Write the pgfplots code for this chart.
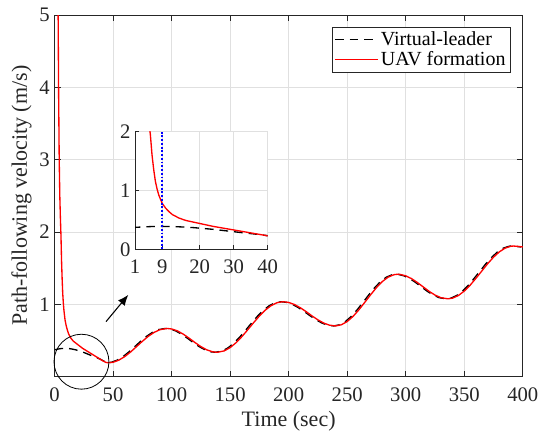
\documentclass[border=0pt]{standalone}
\usepackage{fontspec}
\setmainfont{Liberation Serif}
\usepackage{pgfplots}
\usepackage{pgfplotstable}
\pgfplotsset{compat=1.18}
\usetikzlibrary{arrows.meta}
\definecolor{axgray}{gray}{0.15}
\definecolor{gridgray}{gray}{0.88}

\pgfplotstableread{
t v
2 12
2.5 8
3 5.2
3.5 3.9
4 3.0
4.5 2.5
5 2.2
5.5 1.95
6 1.6
6.5 1.35
7 1.15
7.5 1.02
8 0.92
8.5 0.85
9 0.78
10 0.70
11 0.64
12 0.59
13 0.56
14 0.53
16 0.49
18 0.465
20 0.44
22 0.415
24 0.39
26 0.37
28 0.35
30 0.33
32 0.31
34 0.29
36 0.27
38 0.25
40 0.23
42 0.21
44 0.195
46 0.19
50 0.197
55 0.227
60 0.276
65 0.340
70 0.413
75 0.487
80 0.555
85 0.610
90 0.648
96 0.665
100 0.658
105 0.631
110 0.586
115 0.530
120 0.470
125 0.414
130 0.370
135 0.342
139 0.335
145 0.355
150 0.400
155 0.467
160 0.551
165 0.646
170 0.744
175 0.837
180 0.918
185 0.981
190 1.021
195 1.035
200 1.025
205 0.996
210 0.951
215 0.897
220 0.838
225 0.784
230 0.739
235 0.710
240 0.700
245 0.716
250 0.761
255 0.832
260 0.923
265 1.026
270 1.131
275 1.230
280 1.314
285 1.375
290 1.409
293 1.415
295 1.413
300 1.393
305 1.354
310 1.300
315 1.239
320 1.178
325 1.127
330 1.091
336 1.075
340 1.084
345 1.121
350 1.182
355 1.263
360 1.359
365 1.460
370 1.561
375 1.651
380 1.725
385 1.777
390 1.803
392 1.805
396 1.800
400 1.792
}\uavdata

\pgfplotstableread{
t v
0 0.37
3 0.38
6 0.388
9 0.39
12 0.388
15 0.38
18 0.37
21 0.355
24 0.34
27 0.32
30 0.30
33 0.28
36 0.262
39 0.24
42 0.215
44.5 0.19
48.5 0.197
53.5 0.227
58.5 0.276
63.5 0.340
68.5 0.413
73.5 0.487
78.5 0.555
83.5 0.610
88.5 0.648
94.5 0.665
98.5 0.658
103.5 0.631
108.5 0.586
113.5 0.530
118.5 0.470
123.5 0.414
128.5 0.370
133.5 0.342
137.5 0.335
143.5 0.355
148.5 0.400
153.5 0.467
158.5 0.551
163.5 0.646
168.5 0.744
173.5 0.837
178.5 0.918
183.5 0.981
188.5 1.021
193.5 1.035
198.5 1.025
203.5 0.996
208.5 0.951
213.5 0.897
218.5 0.838
223.5 0.784
228.5 0.739
233.5 0.710
238.5 0.700
243.5 0.716
248.5 0.761
253.5 0.832
258.5 0.923
263.5 1.026
268.5 1.131
273.5 1.230
278.5 1.314
283.5 1.375
288.5 1.409
291.5 1.415
293.5 1.413
298.5 1.393
303.5 1.354
308.5 1.300
313.5 1.239
318.5 1.178
323.5 1.127
328.5 1.091
334.5 1.075
338.5 1.084
343.5 1.121
348.5 1.182
353.5 1.263
358.5 1.359
363.5 1.460
368.5 1.561
373.5 1.651
378.5 1.725
383.5 1.777
388.5 1.803
390.5 1.805
394.5 1.800
398.5 1.792
}\leaderdata

\begin{document}
\begin{tikzpicture}
\path[use as bounding box] (-40.9pt,-42.4pt) rectangle (367.1pt,282.4pt);
\begin{axis}[
  at={(0pt,0pt)}, anchor=south west,
  scale only axis, width=351.2pt, height=271.1pt,
  xmin=0, xmax=400, ymin=0, ymax=5,
  xtick={0,50,...,400}, ytick={1,2,3,4,5},
  grid=major, major grid style={gridgray, line width=0.6pt},
  axis line style={axgray, line width=0.6pt},
  tick style={axgray, line width=0.6pt},
  tick align=inside, major tick length=4.5pt,
  /pgf/number format/assume math mode=true,
  ticklabel style={font=\fontsize{15.5}{18}\selectfont, text=axgray},
  xticklabel style={yshift=-5pt},
  xlabel={Time (sec)}, ylabel={Path-following velocity (m/s)},
  label style={font=\fontsize{16.5}{19}\selectfont, text=axgray},
  xlabel style={yshift=-0.5pt},
  ylabel style={yshift=-1pt},
  legend style={at={(0.974,0.968)}, anchor=north east, draw=axgray, line width=0.6pt,
    font=\fontsize{15}{18}\selectfont, inner sep=1.5pt, row sep=-1pt},
  legend cell align=left,
  legend image code/.code={\draw[#1] (0pt,0pt) -- (32pt,0pt);},
]
\addplot[black, line width=1pt, dash pattern=on 6.5pt off 4.5pt] table[x=t,y=v] {\leaderdata};
\addlegendentry{Virtual-leader}
\addplot[red, line width=1pt] table[x=t,y=v] {\uavdata};
\addlegendentry{UAV formation}
\coordinate (cc) at (axis cs:23,0.205);
\coordinate (a1) at (axis cs:44,0.76);
\coordinate (a2) at (axis cs:63,1.13);
\end{axis}
\draw[black, line width=0.6pt] (cc) circle (20.6pt);
\draw[black, line width=0.8pt, -{Latex[length=8pt,width=6.5pt]}] (a1) -- (a2);
\begin{axis}[
  at={(60.4pt,95.4pt)}, anchor=south west,
  scale only axis, width=99.4pt, height=88.2pt,
  xmin=1, xmax=40, ymin=0, ymax=2,
  xtick={1,9,20,30,40}, ytick={0,1,2},
  axis x line*=bottom, axis y line*=left,
  axis background/.style={fill=white},
  grid=major, major grid style={gridgray, line width=0.6pt},
  axis line style={axgray, line width=0.6pt},
  tick style={axgray, line width=0.6pt},
  tick align=inside, major tick length=3pt,
  /pgf/number format/assume math mode=true,
  ticklabel style={font=\fontsize{15.5}{18}\selectfont, text=axgray},
  xticklabel style={yshift=-4pt},
]
\addplot[black, line width=1pt, dash pattern=on 6.5pt off 4.5pt] table[x=t,y=v] {\leaderdata};
\addplot[red, line width=1pt] table[x=t,y=v] {\uavdata};
\addplot[blue, line width=1.7pt, dash pattern=on 1.4pt off 1.4pt] coordinates {(9,0) (9,2)};
\end{axis}
\end{tikzpicture}
\end{document}
